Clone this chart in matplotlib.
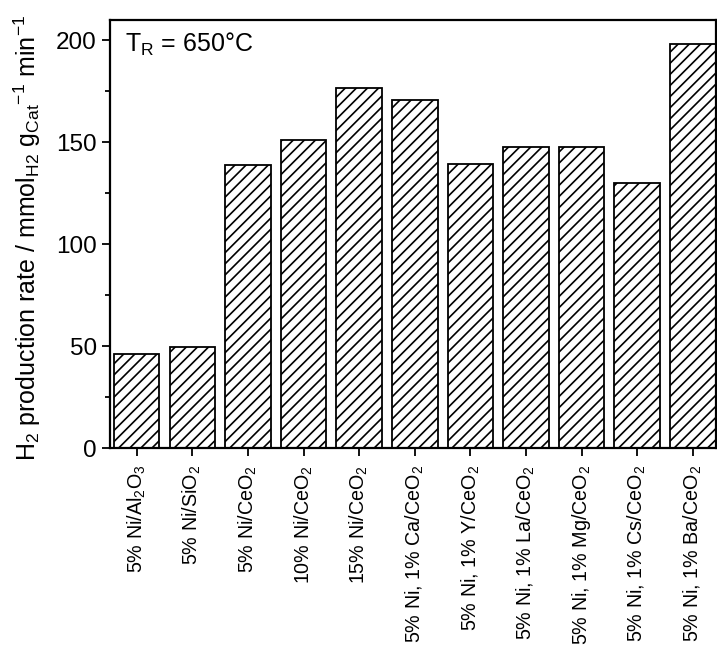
import matplotlib
matplotlib.use("Agg")
import matplotlib.pyplot as plt
from matplotlib.ticker import MultipleLocator

plt.rcParams['font.family'] = ['Liberation Sans', 'DejaVu Sans']
plt.rcParams['mathtext.fontset'] = 'custom'
plt.rcParams['mathtext.rm'] = 'Liberation Sans'
plt.rcParams['mathtext.it'] = 'Liberation Sans'
plt.rcParams['mathtext.bf'] = 'Liberation Sans:bold'
plt.rcParams['hatch.linewidth'] = 1.2

categories = [
    "5% Ni/Al$_2$O$_3$",
    "5% Ni/SiO$_2$",
    "5% Ni/CeO$_2$",
    "10% Ni/CeO$_2$",
    "15% Ni/CeO$_2$",
    "5% Ni, 1% Ca/CeO$_2$",
    "5% Ni, 1% Y/CeO$_2$",
    "5% Ni, 1% La/CeO$_2$",
    "5% Ni, 1% Mg/CeO$_2$",
    "5% Ni, 1% Cs/CeO$_2$",
    "5% Ni, 1% Ba/CeO$_2$",
]
h2_rate = [46.0, 49.5, 139.0, 151.0, 176.5, 171.0, 139.5, 147.5, 147.5, 130.0, 198.0]
yticks = [0, 50, 100, 150, 200]

fig = plt.figure(figsize=(7.17, 6.46), dpi=100)
ax = fig.add_axes([0.1534, 0.3065, 0.8466 - 0.001, 0.969 - 0.3065])

x = list(range(len(categories)))
ax.bar(x, h2_rate, width=0.82, color='white', edgecolor='black',
       linewidth=1.3, hatch='///')

ax.set_xlim(-0.48, 10.42)
ax.set_ylim(0, 210)
ax.set_yticks(yticks)
ax.yaxis.set_minor_locator(MultipleLocator(25))
ax.set_xticks(x)
ax.set_xticklabels(categories, rotation=90, fontsize=14.2)
ax.tick_params(axis='y', labelsize=17.5, direction='out', length=6, width=1.3)
ax.tick_params(axis='y', which='minor', direction='out', length=3.5, width=1.3)
ax.tick_params(axis='x', direction='out', length=6, width=1.3, pad=6)

for sp in ax.spines.values():
    sp.set_linewidth(1.6)

ax.set_ylabel("H$_2$ production rate / mmol$_{\\mathrm{H2}}$ g$_{\\mathrm{Cat}}$$^{-1}$ min$^{-1}$",
              fontsize=18)
ax.yaxis.set_label_coords(-0.11, 0.49)

ax.text(0.025, 0.975, "T$_\\mathrm{R}$ = 650\u00b0C", transform=ax.transAxes,
        fontsize=18, va='top', ha='left')

fig.savefig("out.png", dpi=100)
